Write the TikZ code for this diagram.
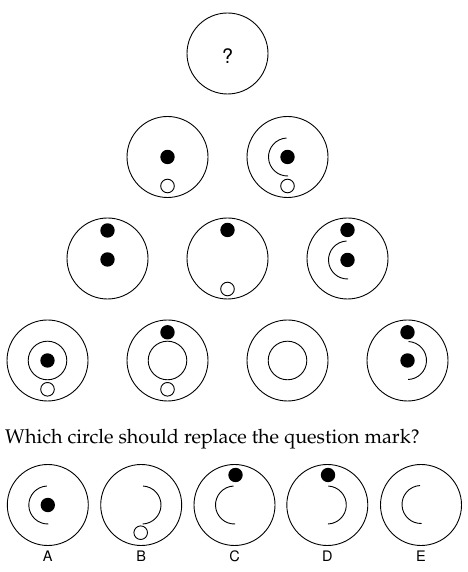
\documentclass[tikz,border=0pt]{standalone}
\usepackage[T1]{fontenc}
\tikzset{
  ln/.style={line width=0.9pt},
  pics/bigc/.style={code={\draw[ln] (0,0) circle[radius=40.5];}},
  pics/ringc/.style={code={\draw[ln] (0,0) circle[radius=19.3];}},
  pics/dotc/.style={code={\fill (0,0) circle[radius=7.2];}},
  pics/holec/.style={code={\draw[ln] (0,0) circle[radius=6.8];}},
  pics/larc/.style={code={\draw[ln] (93:19) arc[start angle=93,end angle=272,radius=19];}},
  pics/rarc/.style={code={\draw[ln] (87:19) arc[start angle=87,end angle=-88,radius=19];}},
  qfont/.style={font=\fontencoding{T1}\fontfamily{ppl}\fontsize{19.8}{23}\selectfont},
  sfont/.style={font=\fontencoding{T1}\fontfamily{phv}\fontsize{14.5}{16}\selectfont},
  markfont/.style={font=\fontencoding{T1}\fontfamily{phv}\fontsize{20}{24}\selectfont},
}
\begin{document}
\begin{tikzpicture}[x=1pt,y=1pt]
\useasboundingbox (0,0) rectangle (467,572);
% top
\pic at (227.5,518.5) {bigc};
\node[markfont,anchor=base] (qm) at (227.5,508.7) {?};
% row 2
\pic at (167.5,415) {bigc};
\pic at (167.5,415) {dotc};
\pic at (167.5,386) {holec};
\pic at (287.5,415) {bigc};
\pic at (287.5,415) {dotc};
\pic at (287.5,415) {larc};
\pic at (287.5,386) {holec};
% row 3
\pic at (107.5,313.5) {bigc};
\pic at (107.5,341.5) {dotc};
\pic at (107.5,312.5) {dotc};
\pic at (227.5,313.5) {bigc};
\pic at (227.5,342) {dotc};
\pic at (227.5,283) {holec};
\pic at (347.5,313.5) {bigc};
\pic at (347.5,342) {dotc};
\pic at (347.5,312) {dotc};
\pic at (347.5,312) {larc};
% row 4
\pic at (47.5,211.5) {bigc};
\pic at (47.5,211.5) {ringc};
\pic at (47.5,211.5) {dotc};
\pic at (47.5,182.7) {holec};
\pic at (167.5,211.5) {bigc};
\pic at (167.5,239.7) {dotc};
\pic at (167.5,211.5) {ringc};
\pic at (167.5,182.7) {holec};
\pic at (287.5,211.5) {bigc};
\pic at (287.5,211.5) {ringc};
\pic at (407.5,211.5) {bigc};
\pic at (407.5,239.7) {dotc};
\pic at (407.5,211.5) {dotc};
\pic at (407.5,211.5) {rarc};
% question
\node[qfont,anchor=base west,inner sep=0pt] (question) at (5,128.7) {Which circle should replace the question mark?};
% answers
\pic at (47.8,67) {bigc};
\pic at (47.8,67) {dotc};
\pic at (47.8,67) {larc};
\node[sfont,anchor=base] (la) at (47.8,10.3) {A};
\pic at (141.2,67) {bigc};
\pic at (142,67) {rarc};
\pic at (140.7,39.3) {holec};
\node[sfont,anchor=base] (lb) at (141.2,10.3) {B};
\pic at (234.5,67) {bigc};
\pic at (235.5,97) {dotc};
\pic at (234.5,67) {larc};
\node[sfont,anchor=base] (lc) at (234.5,10.3) {C};
\pic at (327.3,67) {bigc};
\pic at (328,97) {dotc};
\pic at (327.3,67) {rarc};
\node[sfont,anchor=base] (ld) at (327.3,10.3) {D};
\pic at (421,67) {bigc};
\pic at (421,67.5) {larc};
\node[sfont,anchor=base] (le) at (421,10.3) {E};
\end{tikzpicture}
\end{document}
